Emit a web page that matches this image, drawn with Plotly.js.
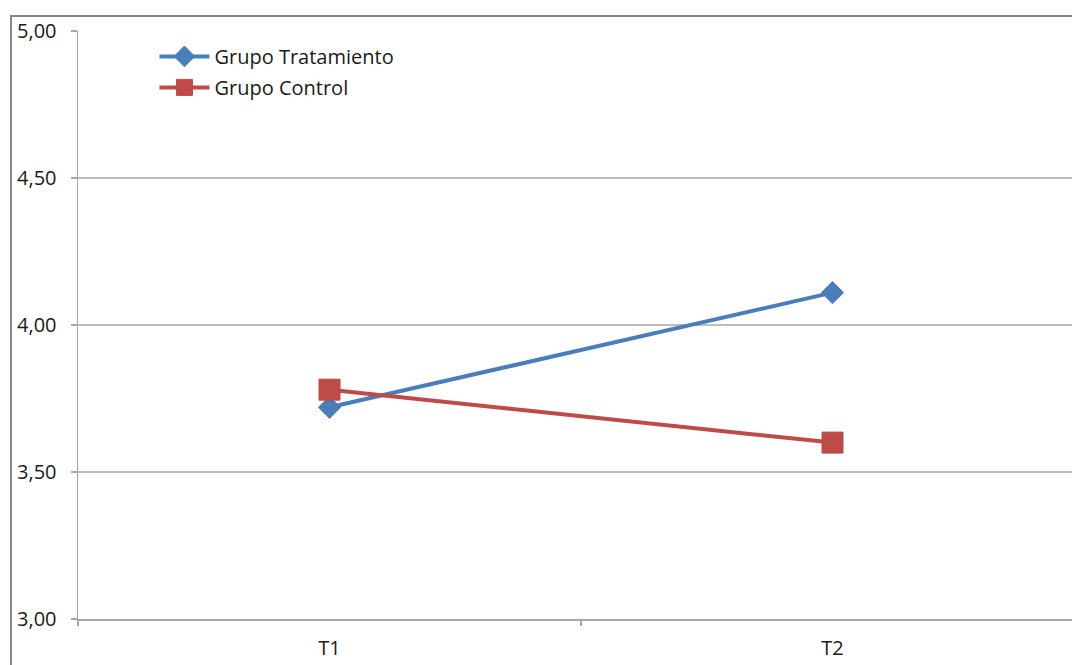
<!DOCTYPE html>
<html>
<head>
<meta charset="utf-8">
<script src="https://cdn.plot.ly/plotly-3.0.1.min.js"></script>
<style>
  html, body { margin: 0; padding: 0; background: #fff; overflow: hidden; width: 1072px; height: 665px; }
  #frame { position: absolute; left: 10px; top: 15px; width: 1200px; height: 800px;
           border-left: 2px solid #878787; border-top: 2px solid #878787; }
  #chart { position: absolute; left: 0; top: 0; }
</style>
</head>
<body>
<div id="frame"></div>
<div id="chart"></div>
<script>
// Measurement times and mean scores per group
const tiempos = ['T1', 'T2'];
const grupoTratamiento = [3.72, 4.11];
const grupoControl = [3.78, 3.60];
const yTicks = [3.0, 3.5, 4.0, 4.5, 5.0];
const yTickText = ['3,00', '3,50', '4,00', '4,50', '5,00'];

const idx = tiempos.map((_, i) => i);

const traces = [
  {
    x: idx, y: grupoTratamiento, name: 'Grupo Tratamiento', legendgroup: 'a',
    type: 'scatter', mode: 'lines+markers',
    line: { color: '#4A7EBB', width: 4 },
    marker: { symbol: 'diamond', size: 17, color: '#4A7EBB', line: { color: '#4A7EBB', width: 1 } }
  },
  {
    x: idx, y: grupoControl, name: 'Grupo Control', legendgroup: 'b',
    type: 'scatter', mode: 'lines+markers',
    line: { color: '#BE4B48', width: 4 },
    marker: { symbol: 'square', size: 21, color: '#BE4B48', line: { color: '#BE4B48', width: 1 } }
  },
  // invisible trace carrying the category-boundary tick marks
  { x: [0], y: [null], xaxis: 'x2', showlegend: false, hoverinfo: 'skip', type: 'scatter' }
];

const layout = {
  width: 1100, height: 680,
  margin: { l: 78, r: 16, t: 31, b: 61 },
  paper_bgcolor: 'rgba(0,0,0,0)',
  plot_bgcolor: '#fff',
  font: { family: 'Open Sans, sans-serif', size: 20, color: '#1a1a1a' },
  showlegend: true,
  legend: {
    x: 0.076, y: 0.99, xanchor: 'left', yanchor: 'top',
    bgcolor: 'rgba(0,0,0,0)', font: { size: 20, color: '#1a1a1a' },
    traceorder: 'grouped', tracegroupgap: 2, itemwidth: 50
  },
  xaxis: {
    range: [-0.5, 1.5], tickvals: idx, ticktext: tiempos,
    ticks: '', showgrid: false, zeroline: false,
    showline: true, linecolor: '#a6a6a6', linewidth: 1.5,
    tickfont: { size: 20, color: '#1a1a1a' }, ticklabelstandoff: 10, fixedrange: true
  },
  xaxis2: {
    overlaying: 'x', matches: 'x', range: [-0.5, 1.5],
    tickvals: [-0.5, 0.5, 1.5], showticklabels: false,
    ticks: 'outside', ticklen: 6, tickcolor: '#a6a6a6', tickwidth: 1.5,
    showgrid: false, zeroline: false, showline: false
  },
  yaxis: {
    range: [3, 5], tickvals: yTicks, ticktext: yTickText,
    ticks: 'outside', ticklen: 6, tickcolor: '#a6a6a6', tickwidth: 1.5,
    showgrid: true, gridcolor: '#bdbdbd', gridwidth: 1.5,
    zeroline: false, showline: true, linecolor: '#a6a6a6', linewidth: 1.5,
    tickfont: { size: 20, color: '#1a1a1a' }, ticklabelstandoff: 10
  }
};

Plotly.newPlot('chart', traces, layout, { displayModeBar: false, staticPlot: true });
</script>
</body>
</html>
